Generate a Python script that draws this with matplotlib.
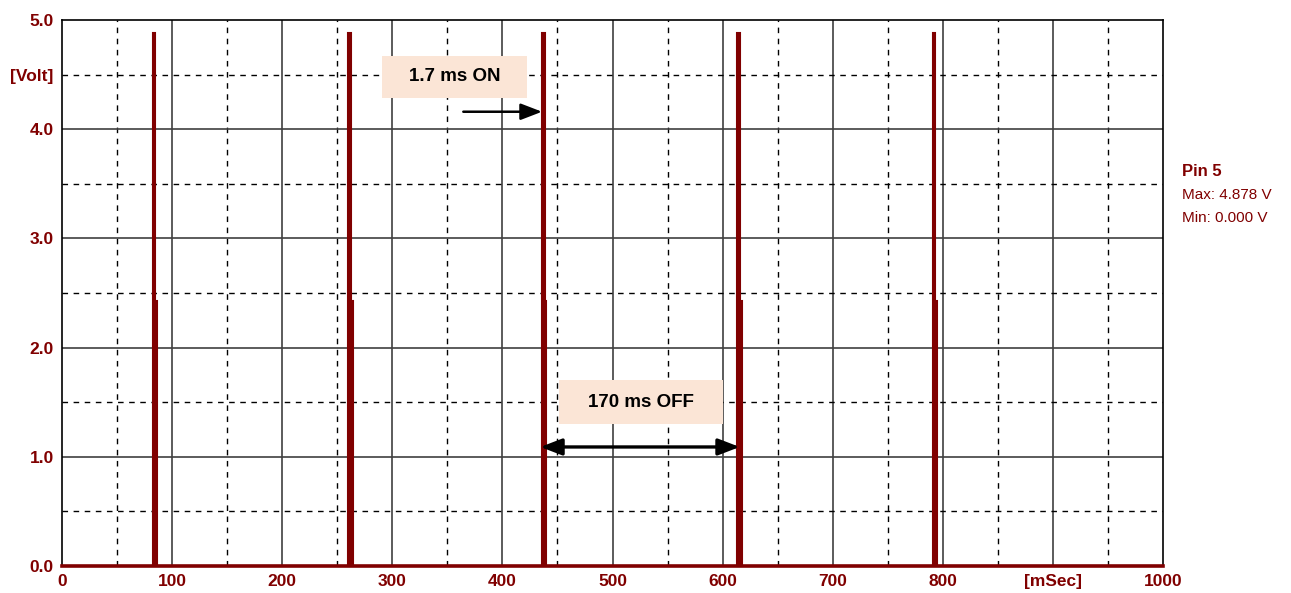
import matplotlib
matplotlib.use("Agg")
import matplotlib.pyplot as plt
import numpy as np

# Data
pulse_starts = [82.5, 260.0, 436.0, 613.5, 791.0]   # ms
v_max = 4.878
v_half = 2.43
on_full = 2.3     # ms at full level
on_half = 1.6     # ms at half level
x_ticks = [0, 100, 200, 300, 400, 500, 600, 700, 800, 900, 1000]
x_labels = ["0", "100", "200", "300", "400", "500", "600", "700", "800", "[mSec]", "1000"]
y_ticks = [0.0, 1.0, 2.0, 3.0, 4.0, 4.5, 5.0]
y_labels = ["0.0", "1.0", "2.0", "3.0", "4.0", "[Volt]", "5.0"]

RED = "#800000"
BOX = "#FBE5D6"

fig = plt.figure(figsize=(12.91, 5.93), dpi=100)
ax = fig.add_axes([62/1291, 27/593, 1101/1291, 546/593])
ax.set_xlim(0, 1000)
ax.set_ylim(0, 5.0)

# grid
for x in np.arange(50, 1000, 100):
    ax.axvline(x, color="black", lw=1, ls=(0, (4, 4)), zorder=1)
for x in np.arange(100, 1000, 100):
    ax.axvline(x, color="#404040", lw=1.2, zorder=1)
for y in np.arange(0.5, 5.0, 1.0):
    ax.axhline(y, color="black", lw=1, ls=(0, (4, 4)), zorder=1)
for y in np.arange(1.0, 5.0, 1.0):
    ax.axhline(y, color="#404040", lw=1.2, zorder=1)

# trace: baseline + filled pulses
ax.plot([0, 1000], [0, 0], color=RED, lw=2.6, zorder=3, clip_on=False)
for s in pulse_starts:
    px = [s, s, s + on_full, s + on_full, s + on_full + on_half, s + on_full + on_half]
    py = [0.0, v_max, v_max, v_half, v_half, 0.0]
    ax.fill(px, py, facecolor=RED, edgecolor=RED, lw=1.5, zorder=3, joinstyle="miter")

for sp in ax.spines.values():
    sp.set_color("black")
    sp.set_linewidth(1.2)

ax.set_xticks(x_ticks)
ax.set_xticklabels(x_labels)
ax.set_yticks(y_ticks)
ax.set_yticklabels(y_labels)
ax.tick_params(length=0, colors=RED, labelsize=12.5, pad=6)
for lab in ax.get_xticklabels() + ax.get_yticklabels():
    lab.set_fontweight("bold")
    lab.set_fontfamily("Liberation Sans")
    lab.set_color(RED)

# right side text
fig.text(1182/1291, 1 - 171/593, "Pin 5", color=RED, fontsize=12, fontweight="bold",
         family="Liberation Sans", va="center")
fig.text(1182/1291, 1 - 195/593, "Max: 4.878 V", color=RED, fontsize=11,
         family="Liberation Sans", va="center")
fig.text(1182/1291, 1 - 218/593, "Min: 0.000 V", color=RED, fontsize=11,
         family="Liberation Sans", va="center")

# annotation boxes
ax.add_patch(plt.Rectangle((291, 4.29), 131.5, 0.38, facecolor=BOX, edgecolor="none", zorder=4))
ax.text(356.5, 4.48, "1.7 ms ON", ha="center", va="center", fontsize=13.5,
        fontweight="bold", family="Liberation Sans", zorder=5)
ax.add_patch(plt.Rectangle((451, 1.30), 149, 0.40, facecolor=BOX, edgecolor="none", zorder=4))
ax.text(525.5, 1.50, "170 ms OFF", ha="center", va="center", fontsize=13.5,
        fontweight="bold", family="Liberation Sans", zorder=5)

ax.annotate("", xy=(436.0, 4.16), xytext=(364.5, 4.16),
            arrowprops=dict(arrowstyle="-|>,head_length=1.3,head_width=0.5", color="black", lw=1.8,
                            shrinkA=0, shrinkB=0), zorder=6)
ax.annotate("", xy=(434.5, 1.09), xytext=(615.5, 1.09),
            arrowprops=dict(arrowstyle="<|-|>,head_length=1.3,head_width=0.5", color="black", lw=2.4,
                            shrinkA=0, shrinkB=0), zorder=6)

fig.savefig("out.png", dpi=100, facecolor="white")
